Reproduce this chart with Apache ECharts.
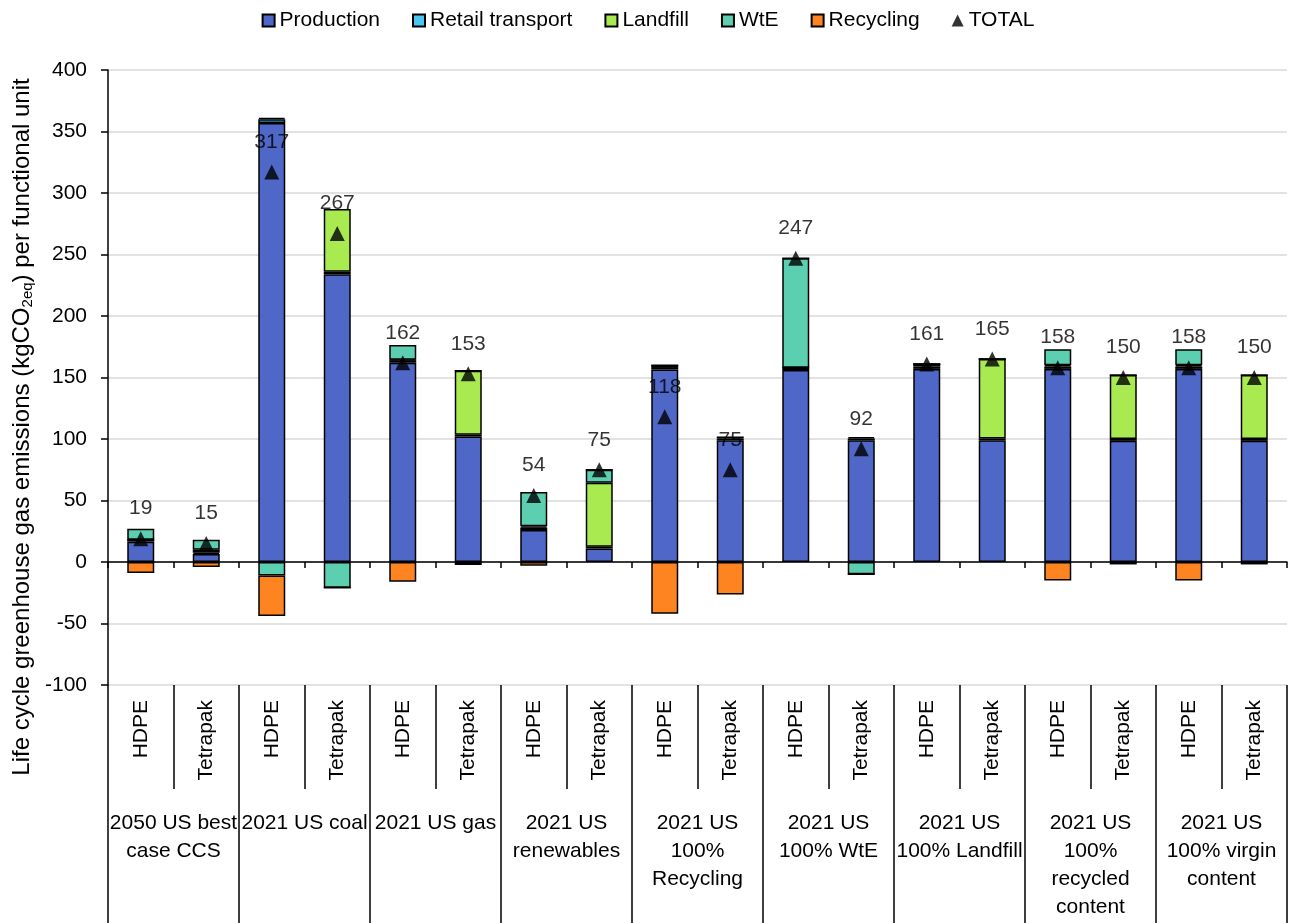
<!DOCTYPE html>
<html>
<head>
<meta charset="utf-8">
<script src="https://cdn.jsdelivr.net/npm/echarts@6/dist/echarts.min.js"></script>
<style>
  html, body { margin: 0; padding: 0; background: #fff; }
  #main { width: 1296px; height: 923px; }
</style>
</head>
<body>
<div id="main"></div>
<script>
// materials per scenario, and the scenario groups
const materials = ['HDPE', 'Tetrapak', 'HDPE', 'Tetrapak', 'HDPE', 'Tetrapak', 'HDPE', 'Tetrapak', 'HDPE',
  'Tetrapak', 'HDPE', 'Tetrapak', 'HDPE', 'Tetrapak', 'HDPE', 'Tetrapak', 'HDPE', 'Tetrapak']
const scenarios = ['2050 US best\ncase CCS', '2021 US coal', '2021 US gas', '2021 US\nrenewables',
  '2021 US\n100%\nRecycling', '2021 US\n100% WtE', '2021 US\n100% Landfill',
  '2021 US\n100%\nrecycled\ncontent', '2021 US\n100% virgin\ncontent']

// kgCO2eq per functional unit
const production = [16.5, 6.5, 357, 234, 162, 102, 26, 11, 156.5, 99, 156, 99, 157, 99, 157, 98.5, 157, 98.5]
const retailTransport = [1.5, 1, 3, 2, 2, 1.5, 2, 1.5, 2, 1.5, 2, 1.5, 2, 1.5, 2, 1.5, 2, 1.5]
const landfill = [0, 2.5, 1, 51, 0.5, 52, 1, 52, 1.5, 1, 0, 1, 2, 64.5, 1, 52, 1, 52]
const wte = [9, 8, -11, -21, 12, 0, 28, 10.5, 0, 0, 89, -10, 0, 0, 13, 0, 13, 0]
const recycling = [-9, -4, -33, 0, -16, -2.5, -3, 0, -42, -26.5, 0, 0, 0, 0, -15, -2, -15, -2]
const total = [19, 15, 317, 267, 162, 153, 54, 75, 118, 75, 247, 92, 161, 165, 158, 150, 158, 150]

const font = 'Liberation Sans, Arial, sans-serif'
const colors = {
  'Production': '#4F67C7',
  'Retail transport': '#4DC6EF',
  'Landfill': '#A8EA50',
  'WtE': '#5DCFB1',
  'Recycling': '#FD8421'
}

let myChart = echarts.init(document.getElementById('main'))

function barSeries (name, data) {
  return {
    name: name,
    type: 'bar',
    stack: 'lca',
    xAxisIndex: 0,
    yAxisIndex: 0,
    barWidth: 27,
    data: data,
    itemStyle: {
      color: colors[name],
      borderColor: '#000',
      borderWidth: 1.5
    },
    emphasis: { disabled: true }
  }
}

let option = {
  animation: false,
  textStyle: { fontFamily: font },
  legend: {
    top: 5,
    left: 'center',
    itemWidth: 12,
    itemHeight: 12,
    itemGap: 32,
    textStyle: { fontSize: 21, color: '#000', fontFamily: font },
    data: [
      { name: 'Production', icon: 'rect' },
      { name: 'Retail transport', icon: 'rect' },
      { name: 'Landfill', icon: 'rect' },
      { name: 'WtE', icon: 'rect' },
      { name: 'Recycling', icon: 'rect' },
      { name: 'TOTAL', icon: 'triangle', itemStyle: { borderWidth: 0 } }
    ]
  },
  grid: {
    left: 108,
    right: 9,
    top: 70,
    bottom: 238
  },
  xAxis: [
    {
      // inner labels: HDPE / Tetrapak
      type: 'category',
      data: materials,
      position: 'bottom',
      axisLine: { show: false, onZero: false },
      axisTick: { show: true, length: 104, lineStyle: { color: '#000', width: 1.5 } },
      axisLabel: { rotate: 90, margin: 15, fontSize: 21, color: '#000', fontFamily: font }
    },
    {
      // outer labels: scenarios
      type: 'category',
      data: scenarios,
      position: 'bottom',
      axisLine: { show: false, onZero: false },
      axisTick: { show: true, length: 240, lineStyle: { color: '#000', width: 1.5 } },
      axisLabel: { margin: 124, fontSize: 21, lineHeight: 28, color: '#000', fontFamily: font, interval: 0 }
    },
    {
      // zero line
      type: 'category',
      data: materials,
      position: 'bottom',
      axisLine: { show: true, onZero: true, lineStyle: { color: '#000', width: 1.5 } },
      axisTick: { show: true, length: 6, lineStyle: { color: '#000', width: 1.5 } },
      axisLabel: { show: false }
    }
  ],
  yAxis: {
    type: 'value',
    min: -100,
    max: 400,
    interval: 50,
    axisLine: { show: true, lineStyle: { color: '#000', width: 1.5 } },
    axisTick: { show: true, length: 7, lineStyle: { color: '#000', width: 1.5 } },
    axisLabel: { margin: 21, fontSize: 21, color: '#000', fontFamily: font },
    splitLine: { lineStyle: { color: '#D9D9D9', width: 1.5 } }
  },
  graphic: [{
    type: 'text',
    x: 22,
    y: 427,
    rotation: Math.PI / 2,
    style: {
      text: '{a|Life cycle greenhouse gas emissions (kgCO}{s|2eq}{a|) per functional unit}',
      align: 'center',
      verticalAlign: 'middle',
      fill: '#000',
      rich: {
        a: { fontSize: 24, fontFamily: font, fill: '#000' },
        s: { fontSize: 15, fontFamily: font, fill: '#000', padding: [11, 0, 0, 0] }
      }
    }
  }],
  series: [
    barSeries('Production', production),
    barSeries('Retail transport', retailTransport),
    barSeries('Landfill', landfill),
    barSeries('WtE', wte),
    barSeries('Recycling', recycling),
    {
      name: 'TOTAL',
      type: 'scatter',
      xAxisIndex: 0,
      yAxisIndex: 0,
      symbol: 'triangle',
      symbolSize: 15,
      z: 5,
      data: total,
      itemStyle: { color: '#000' },
      label: {
        show: true,
        position: 'top',
        distance: 12,
        fontSize: 21,
        color: '#000',
        fontFamily: font
      },
      emphasis: { disabled: true }
    }
  ]
}

myChart.setOption(option)
window.addEventListener('resize', function () {
  myChart.resize()
})
</script>
</body>
</html>
